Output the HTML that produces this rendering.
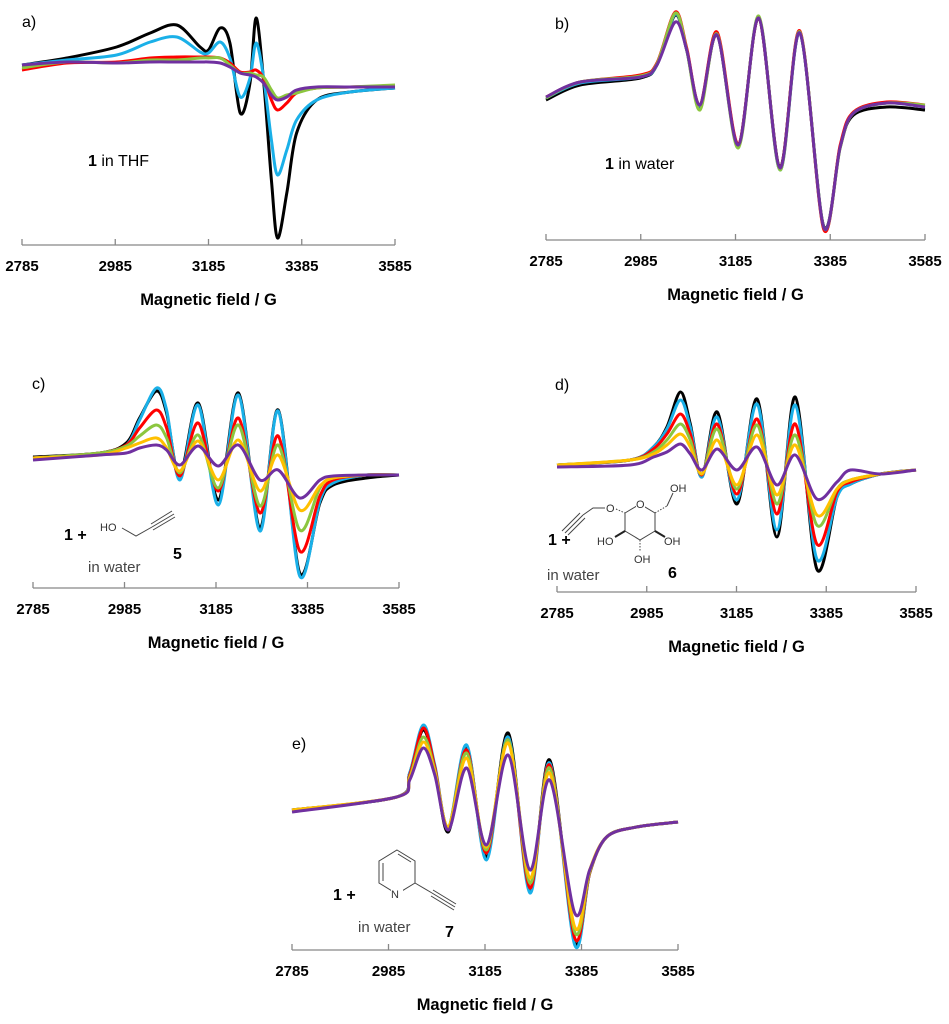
<!DOCTYPE html>
<html><head><meta charset="utf-8"><style>
html,body{margin:0;padding:0;background:#fff;}
svg{display:block;font-family:"Liberation Sans",Arial,sans-serif;}
.tick{font-size:15px;font-weight:bold;text-anchor:middle;fill:#000}
.ttl{font-size:16.5px;font-weight:bold;text-anchor:middle;fill:#000}
.lab{font-size:16px;fill:#000}
.note{font-size:16px;fill:#000}
.gray{font-size:15px;fill:#444}
.chem{font-size:11px;fill:#333}
</style></head><body>
<svg id="fig" width="949" height="1024" viewBox="0 0 949 1024">
<!-- annotations -->
<text class="lab" x="22" y="27">a)</text>
<text class="lab" x="555" y="29">b)</text>
<text class="lab" x="32" y="389">c)</text>
<text class="lab" x="555" y="390">d)</text>
<text class="lab" x="292" y="749">e)</text>

<text class="note" x="88" y="166"><tspan font-weight="bold">1</tspan> in THF</text>
<text class="note" x="605" y="169"><tspan font-weight="bold">1</tspan> in water</text>

<g>
<text class="note" x="64" y="540" font-weight="bold">1 +</text>
<text class="chem" x="100" y="531" font-size="12">HO</text>
<polyline points="122,528 136,536 152,527" fill="none" stroke="#444" stroke-width="1"/>
<line x1="152" y1="527" x2="174" y2="514" stroke="#444" stroke-width="1"/>
<line x1="151" y1="524" x2="172" y2="511" stroke="#444" stroke-width="1"/>
<line x1="153" y1="530" x2="175" y2="517" stroke="#444" stroke-width="1"/>
<text class="gray" x="88" y="572">in water</text>
<text class="note" x="173" y="559" font-weight="bold">5</text>
</g>

<g>
<text class="note" x="548" y="545" font-weight="bold">1 +</text>
<line x1="565" y1="533" x2="583" y2="515" stroke="#444" stroke-width="1"/>
<line x1="562" y1="531" x2="580" y2="513" stroke="#444" stroke-width="1"/>
<line x1="568" y1="535" x2="585" y2="518" stroke="#444" stroke-width="1"/>
<polyline points="583,515 593,508 605,508" fill="none" stroke="#444" stroke-width="1"/>
<text class="chem" x="606" y="512">O</text>
<line x1="616" y1="509" x2="625" y2="513" stroke="#444" stroke-width="1" stroke-dasharray="1.5,1.5"/>
<polygon points="625,513 640,504 655,513 655,531 640,540 625,531" fill="none" stroke="#444" stroke-width="1"/>
<rect x="636" y="498" width="9" height="11" fill="#fff"/>
<text class="chem" x="636" y="508">O</text>
<line x1="655" y1="513" x2="667" y2="506" stroke="#444" stroke-width="1" stroke-dasharray="1.5,1.5"/>
<line x1="667" y1="506" x2="673" y2="493" stroke="#444" stroke-width="1"/>
<text class="chem" x="670" y="492">OH</text>
<line x1="625" y1="531" x2="615" y2="537" stroke="#222" stroke-width="2"/>
<text class="chem" x="597" y="545">HO</text>
<line x1="640" y1="540" x2="640" y2="552" stroke="#444" stroke-width="1" stroke-dasharray="1.5,1.5"/>
<text class="chem" x="634" y="563">OH</text>
<line x1="655" y1="531" x2="665" y2="537" stroke="#222" stroke-width="2"/>
<text class="chem" x="664" y="545">OH</text>
<text class="gray" x="547" y="580">in water</text>
<text class="note" x="668" y="578" font-weight="bold">6</text>
</g>

<g>
<text class="note" x="333" y="900" font-weight="bold">1 +</text>
<polygon points="397,850 415,861 415,883 397,894 379,883 379,861" fill="none" stroke="#444" stroke-width="1"/>
<line x1="383" y1="863" x2="383" y2="881" stroke="#444" stroke-width="1"/>
<line x1="398" y1="854" x2="411" y2="862" stroke="#444" stroke-width="1"/>
<rect x="391" y="886" width="12" height="13" fill="#fff"/>
<text class="chem" x="391" y="898" font-size="13">N</text>
<line x1="415" y1="883" x2="432" y2="893" stroke="#444" stroke-width="1"/>
<line x1="432" y1="893" x2="455" y2="907" stroke="#444" stroke-width="1"/>
<line x1="433" y1="890" x2="456" y2="904" stroke="#444" stroke-width="1"/>
<line x1="431" y1="896" x2="454" y2="910" stroke="#444" stroke-width="1"/>
<text class="gray" x="358" y="932">in water</text>
<text class="note" x="445" y="937" font-weight="bold">7</text>
</g>
</svg>
<script>
// ---- shared axis data ----
const tickValues = [2785, 2985, 3185, 3385, 3585];
const seriesNames = ['black','blue','red','green','orange','purple'];
const seriesColors = ['#000000','#1ab0e8','#ff0000','#8cc63f','#ffc000','#7030a0'];

// ---- panel a ----
const fieldsA = [2785,2881,2988,3060,3117,3167,3185,3210,3231,3253,3274,3287,3303,3320,3333,3353,3374,3417,3488,3585];
const aBlack  = [180,187,198,212,220,198,195,217,202,132,162,227,165,65,7,52,112,145,153,157];
const aBlue   = [180,185,190,203,208,193,192,203,187,148,167,202,168,105,70,95,125,145,153,157];
const aRed    = [175,182,183,187,188,188,188,187,182,173,173,175,167,145,135,142,152,157,158,159];
const aGreen  = [177,183,182,185,185,187,187,187,180,172,172,170,168,155,147,150,152,157,158,160];
const aPurple = [180,183,182,183,183,183,183,182,178,172,170,168,162,150,145,148,155,158,158,158];

// ---- panel b ----
const fieldsB = [2785,2857,2984,3019,3058,3082,3110,3146,3191,3234,3279,3321,3371,3406,3434,3504,3585];
const bBlack  = [140,155,162,175,225,190,133,205,95,222,73,207,14,93,125,133,130];
const bBlue   = [142,157,163,175,226,190,134,206,94,223,70,207,13,93,127,137,133];
const bRed    = [143,158,165,177,228,192,135,208,96,222,72,209,11,95,128,138,135];
const bGreen  = [142,158,164,176,227,190,130,206,92,224,70,208,13,92,127,137,135];
const bPurple = [143,158,163,175,218,190,135,205,95,222,72,207,13,93,127,137,133];

// ---- panel c ----
const fieldsC = [2785,2931,2989,3018,3055,3077,3106,3146,3190,3234,3281,3321,3368,3412,3441,3514,3585];
const cBlack  = [131,135,145,170,197,175,112,185,88,195,60,178,15,85,103,110,113];
const cBlue   = [130,135,143,168,200,178,108,183,83,193,57,177,12,87,105,113,113];
const cRed    = [130,135,143,160,178,160,112,165,97,170,75,152,37,92,108,113,113];
const cGreen  = [130,135,142,152,163,150,115,153,100,163,82,143,58,100,110,113,113];
const cOrange = [130,133,140,145,150,140,117,147,108,148,97,133,78,102,110,113,113];
const cPurple = [128,133,135,140,143,138,123,142,122,143,108,118,90,108,112,113,113];

// ---- panel d ----
const fieldsD = [2785,2948,3000,3030,3060,3082,3108,3142,3186,3231,3275,3316,3364,3409,3439,3506,3585];
const dBlack  = [127,132,145,165,200,168,115,180,88,193,55,195,23,95,108,118,122];
const dBlue   = [127,132,145,163,192,165,115,175,92,188,62,187,33,95,108,118,122];
const dRed    = [127,132,143,158,178,158,117,168,98,173,78,168,48,100,110,118,122];
const dGreen  = [127,132,140,152,168,152,118,163,103,167,88,157,67,103,112,118,122];
const dOrange = [127,132,138,147,158,145,118,152,107,157,97,147,77,103,112,118,122];
const dPurple = [125,127,135,140,148,138,122,143,122,145,107,137,93,110,122,118,122];

// ---- panel e ----
const fieldsE = [2785,3002,3029,3057,3081,3109,3147,3188,3233,3278,3319,3371,3402,3437,3499,3585];
const eBlack  = [140,153,177,220,183,118,203,93,217,60,190,8,77,113,123,128];
const eBlue   = [140,153,177,225,185,122,205,90,213,57,187,5,77,113,123,128];
const eRed    = [140,153,175,222,183,122,200,97,210,62,185,12,77,113,123,128];
const eGreen  = [140,153,173,213,180,123,197,100,210,67,182,18,78,113,123,128];
const eOrange = [140,153,172,208,178,123,192,103,207,72,177,23,80,113,123,128];
const ePurple = [138,153,170,202,175,120,182,105,195,80,170,37,80,113,123,128];

const NS = 'http://www.w3.org/2000/svg';
const svg = document.getElementById('fig');

function smoothPath(pts){
  let d = 'M' + pts[0][0].toFixed(1) + ',' + pts[0][1].toFixed(1);
  for (let i = 0; i < pts.length - 1; i++){
    const p0 = pts[Math.max(0,i-1)], p1 = pts[i], p2 = pts[i+1], p3 = pts[Math.min(pts.length-1,i+2)];
    const t = 0.16;
    const c1x = p1[0] + (p2[0]-p0[0])*t, c1y = p1[1] + (p2[1]-p0[1])*t;
    const c2x = p2[0] - (p3[0]-p1[0])*t, c2y = p2[1] - (p3[1]-p1[1])*t;
    d += ' C' + c1x.toFixed(1)+','+c1y.toFixed(1)+' '+c2x.toFixed(1)+','+c2y.toFixed(1)+' '+p2[0].toFixed(1)+','+p2[1].toFixed(1);
  }
  return d;
}

function drawPanel(id, x0, x1, axisY, fields, series, colorIdx){
  const g = document.createElementNS(NS,'g');
  
  
  svg.appendChild(g);
  const xs = f => x0 + (f - 2785) / 800 * (x1 - x0);
  const ys = v => axisY - v;
  // axis
  const ax = document.createElementNS(NS,'line');
  ax.setAttribute('x1', x0); ax.setAttribute('x2', x1);
  ax.setAttribute('y1', axisY); ax.setAttribute('y2', axisY);
  ax.setAttribute('stroke', '#888'); ax.setAttribute('stroke-width', '1.3');
  
  
  g.appendChild(ax);
  tickValues.forEach(tv => {
    const tk = document.createElementNS(NS,'line');
    tk.setAttribute('x1', xs(tv)); tk.setAttribute('x2', xs(tv));
    tk.setAttribute('y1', axisY); tk.setAttribute('y2', axisY - 6);
    tk.setAttribute('stroke', '#888'); tk.setAttribute('stroke-width', '1.3');
    
    
    g.appendChild(tk);
    const tl = document.createElementNS(NS,'text');
    tl.setAttribute('class', 'tick');
    tl.setAttribute('x', xs(tv)); tl.setAttribute('y', axisY + 26);
    tl.textContent = tv;
    
    
    g.appendChild(tl);
  });
  const tt = document.createElementNS(NS,'text');
  tt.setAttribute('class', 'ttl');
  tt.setAttribute('x', (x0 + x1) / 2); tt.setAttribute('y', axisY + 60);
  tt.textContent = 'Magnetic field / G';
  
  
  g.appendChild(tt);
  series.forEach((vals, k) => {
    const pts = fields.map((f, i) => [xs(f), ys(vals[i])]);
    const p = document.createElementNS(NS,'path');
    p.setAttribute('d', smoothPath(pts));
    p.setAttribute('fill', 'none');
    p.setAttribute('stroke', seriesColors[colorIdx[k]]);
    p.setAttribute('stroke-width', '3');
    p.setAttribute('stroke-linejoin', 'round');
    
    
    g.appendChild(p);
  });
}

drawPanel('a', 22, 395, 245, fieldsA, [aBlack,aBlue,aRed,aGreen,aPurple], [0,1,2,3,5]);
drawPanel('b', 546, 925, 240, fieldsB, [bBlack,bBlue,bRed,bGreen,bPurple], [0,1,2,3,5]);
drawPanel('c', 33, 399, 588, fieldsC, [cBlack,cBlue,cRed,cGreen,cOrange,cPurple], [0,1,2,3,4,5]);
drawPanel('d', 557, 916, 592, fieldsD, [dBlack,dBlue,dRed,dGreen,dOrange,dPurple], [0,1,2,3,4,5]);
drawPanel('e', 292, 678, 950, fieldsE, [eBlack,eBlue,eRed,eGreen,eOrange,ePurple], [0,1,2,3,4,5]);
</script>
</body></html>
